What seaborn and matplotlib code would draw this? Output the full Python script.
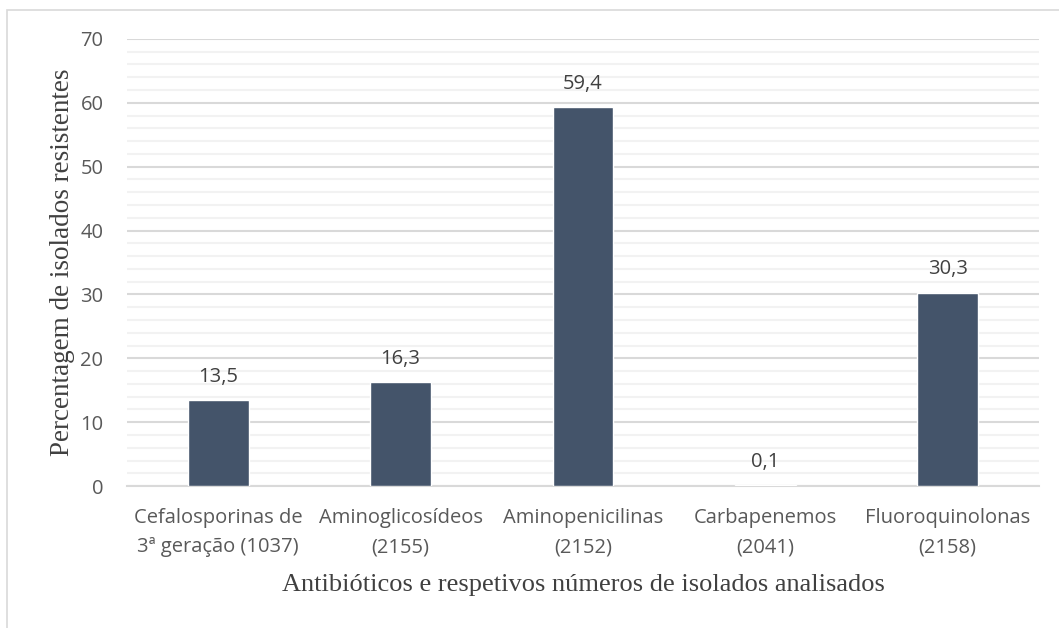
import matplotlib
matplotlib.use("Agg")
import matplotlib.pyplot as plt
import numpy as np
import pandas as pd
import seaborn as sns
from matplotlib.patches import Rectangle
from matplotlib.ticker import MultipleLocator

categories = [
    "Cefalosporinas de\n3ª geração (1037)",
    "Aminoglicosídeos\n(2155)",
    "Aminopenicilinas\n(2152)",
    "Carbapenemos\n(2041)",
    "Fluoroquinolonas\n(2158)",
]
values = [13.5, 16.3, 59.4, 0.1, 30.3]
value_labels = ["13,5", "16,3", "59,4", "0,1", "30,3"]

BAR_COLOR = "#44546A"
TEXT_COLOR = "#595959"

sns.set_theme(style="white")
plt.rcParams["font.family"] = ["Open Sans", "DejaVu Sans"]

df = pd.DataFrame({"categoria": categories, "valor": values})

fig = plt.figure(figsize=(10.59, 6.28), dpi=100)
ax = fig.add_axes([0.12, 0.226, 0.861, 0.712])

# frame around the chart area (as in the original export)
fig.patches.append(Rectangle((7 / 1059, -0.1), 1.2, 1 - 10 / 628 + 0.1,
                             transform=fig.transFigure, fill=False,
                             edgecolor="#D9D9D9", linewidth=1.2, zorder=0))

sns.barplot(data=df, x="categoria", y="valor", color=BAR_COLOR, saturation=1,
            width=0.334, ax=ax, zorder=3)

ax.set_ylim(0, 70)
ax.yaxis.set_major_locator(MultipleLocator(10))
ax.yaxis.set_minor_locator(MultipleLocator(2))
ax.grid(which="major", axis="y", color="#D9D9D9", linewidth=1.5, zorder=0)
ax.grid(which="minor", axis="y", color="#F2F2F2", linewidth=1.5, zorder=0)
ax.set_axisbelow(True)
for side in ["top", "right", "left"]:
    ax.spines[side].set_visible(False)
ax.spines["bottom"].set_color("#D9D9D9")
ax.spines["bottom"].set_linewidth(1.5)

ax.tick_params(axis="both", which="both", length=0, labelsize=14.5,
               labelcolor=TEXT_COLOR)
ax.tick_params(axis="x", pad=16)
ax.tick_params(axis="y", pad=17)
for lab in ax.get_xticklabels():
    lab.set_linespacing(1.6)

for i, (v, t) in enumerate(zip(values, value_labels)):
    ax.annotate(t, (i, v), xytext=(0, 13), textcoords="offset points",
                ha="center", va="baseline", fontsize=14.5, color="#404040")

ax.set_xlabel("Antibióticos e respetivos números de isolados analisados",
              family="Liberation Serif", fontsize=19, color="#404040", labelpad=12)
ax.set_ylabel("Percentagem de isolados resistentes",
              family="Liberation Serif", fontsize=19.5, color="#404040", labelpad=4)

fig.savefig("out.png", dpi=100)
